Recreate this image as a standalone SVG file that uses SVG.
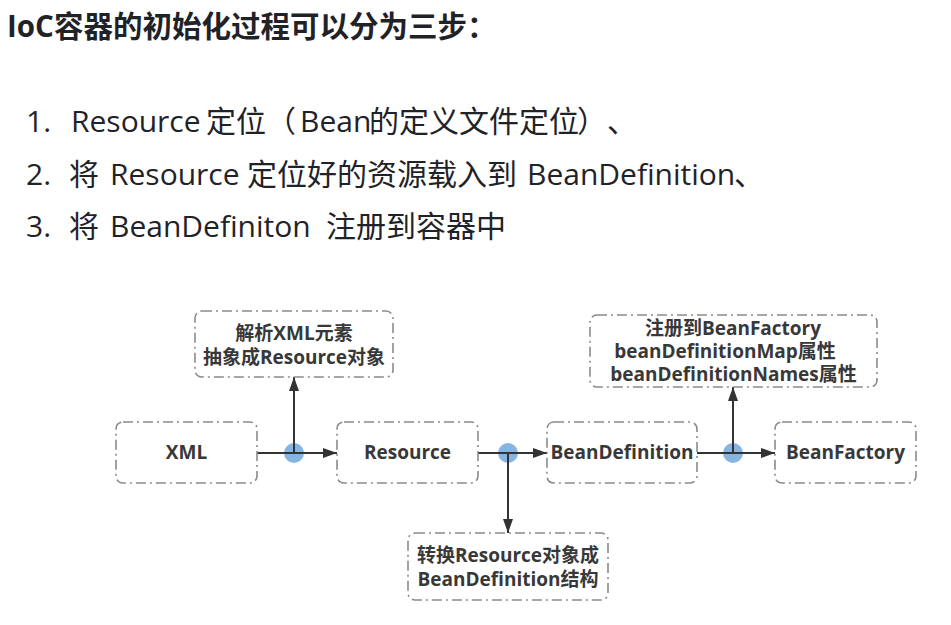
<svg xmlns="http://www.w3.org/2000/svg" width="951" height="625" viewBox="0 0 951 625">
<style>
.title{font-family:"Open Sans","Noto Sans CJK SC",sans-serif;font-weight:bold;font-size:29.5px;fill:#1f2328}
.li{font-family:"Open Sans","Noto Sans CJK SC",sans-serif;font-size:30px;fill:#1f2328}
.box{fill:#ffffff;stroke:#8a8a8a;stroke-width:1.6;stroke-dasharray:10 4 2 4}
.lbl{font-family:"Open Sans","Noto Sans CJK SC",sans-serif;font-weight:bold;font-size:19px;fill:#383838;text-anchor:middle}
.edge{stroke:#333333;stroke-width:2;fill:none}
.dot{fill:#87b5e2}
</style>
<defs>
<marker id="arr" viewBox="0 0 14 10" refX="14" refY="5" markerWidth="14" markerHeight="10" markerUnits="userSpaceOnUse" orient="auto">
<path d="M0,0 L14,5 L0,10 Z" fill="#333333"/>
</marker>
</defs>
<rect width="951" height="625" fill="#ffffff"/>
<text class="title" y="37"><tspan x="7">IoC</tspan><tspan x="54">容器的初始化过程可以分为三步：</tspan></text>
<text class="li" y="132"><tspan x="26">1.</tspan><tspan x="71">Resource</tspan><tspan x="206">定位（</tspan><tspan x="300">Bean</tspan><tspan x="369">的定义文件定位</tspan><tspan x="577">）</tspan><tspan x="607">、</tspan></text>
<text class="li" y="185"><tspan x="26">2.</tspan><tspan x="69">将</tspan><tspan x="110">Resource</tspan><tspan x="247">定位好的资源载入到</tspan><tspan x="527">BeanDefinition</tspan><tspan x="734">、</tspan></text>
<text class="li" y="237"><tspan x="26">3.</tspan><tspan x="69">将</tspan><tspan x="110">BeanDefiniton</tspan><tspan x="326">注册到容器中</tspan></text>

<g id="dots">
<circle class="dot" cx="294" cy="453" r="10"/>
<circle class="dot" cx="508" cy="453" r="10"/>
<circle class="dot" cx="733" cy="453" r="10"/>
</g>
<g id="connectors">
<line class="edge" x1="257" y1="453" x2="337" y2="453" marker-end="url(#arr)"/>
<line class="edge" x1="294" y1="453" x2="294" y2="377" marker-end="url(#arr)"/>
<line class="edge" x1="478" y1="453" x2="547" y2="453" marker-end="url(#arr)"/>
<line class="edge" x1="508" y1="453" x2="508" y2="533" marker-end="url(#arr)"/>
<line class="edge" x1="697" y1="453" x2="775" y2="453" marker-end="url(#arr)"/>
<line class="edge" x1="733" y1="453" x2="733" y2="387" marker-end="url(#arr)"/>
</g>
<g id="n-parse">
<rect class="box" x="195" y="311" width="198" height="66" rx="7"/>
<text class="lbl" x="294" y="340">解析XML元素</text>
<text class="lbl" x="294" y="364">抽象成Resource对象</text>
</g>
<g id="n-xml">
<rect class="box" x="116" y="422" width="141" height="61" rx="7"/>
<text class="lbl" x="186.5" y="459">XML</text>
</g>
<g id="n-resource">
<rect class="box" x="337" y="422" width="141" height="61" rx="7"/>
<text class="lbl" x="407.5" y="459">Resource</text>
</g>
<g id="n-beandef">
<rect class="box" x="547" y="422" width="150" height="61" rx="7"/>
<text class="lbl" x="622" y="459">BeanDefinition</text>
</g>
<g id="n-beanfactory">
<rect class="box" x="775" y="422" width="141" height="61" rx="7"/>
<text class="lbl" x="845.5" y="459">BeanFactory</text>
</g>
<g id="n-register">
<rect class="box" x="590" y="315" width="287" height="72" rx="7"/>
<text class="lbl" x="733" y="335">注册到BeanFactory</text>
<text class="lbl" x="725" y="358">beanDefinitionMap属性</text>
<text class="lbl" x="733.5" y="381">beanDefinitionNames属性</text>
</g>
<g id="n-convert">
<rect class="box" x="408" y="533" width="200" height="67" rx="7"/>
<text class="lbl" x="508" y="562">转换Resource对象成</text>
<text class="lbl" x="508" y="586">BeanDefinition结构</text>
</g>
</svg>
